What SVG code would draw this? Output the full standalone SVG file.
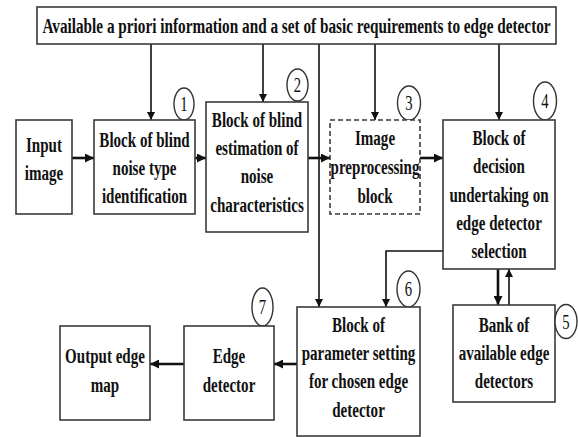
<svg xmlns="http://www.w3.org/2000/svg" width="578" height="437" viewBox="0 0 578 437">
<style>
.box{fill:#fff;stroke:#3a3a3a;stroke-width:1.6}
.dash{fill:#fff;stroke:#3a3a3a;stroke-width:1.6;stroke-dasharray:5 3}
.num{fill:#fff;stroke:#333;stroke-width:1.4}
.t{font-family:"Liberation Serif","Times New Roman",serif;font-weight:bold;font-size:21.5px;fill:#111;text-anchor:middle}
.n{font-family:"Liberation Serif","Times New Roman",serif;font-size:21px;fill:#111;text-anchor:middle}
.c{fill:none;stroke:#111;stroke-width:1.6}
.ct{fill:none;stroke:#111;stroke-width:2.6}
</style>
<defs>
<marker id="ah" viewBox="0 0 10 10" refX="10" refY="5" markerWidth="8" markerHeight="8" markerUnits="userSpaceOnUse" orient="auto"><path d="M0,0 L10,5 L0,10 z" fill="#111"/></marker>
<marker id="ah2" viewBox="0 0 10 10" refX="10" refY="5" markerWidth="9" markerHeight="9" markerUnits="userSpaceOnUse" orient="auto"><path d="M0,0 L10,5 L0,10 z" fill="#111"/></marker>
</defs>
<rect width="578" height="437" fill="#fff"/>
<g id="connectors">
<line class="c" x1="151" y1="44" x2="151" y2="120" marker-end="url(#ah)"/>
<line class="c" x1="263" y1="44" x2="263" y2="102" marker-end="url(#ah)"/>
<line class="c" x1="375" y1="44" x2="375" y2="120" marker-end="url(#ah)"/>
<line class="c" x1="499" y1="44" x2="499" y2="120" marker-end="url(#ah)"/>
<line class="c" x1="319" y1="44" x2="319" y2="307" marker-end="url(#ah)"/>
<polyline class="c" points="443,251 386,251 386,307" marker-end="url(#ah)"/>
<line class="ct" x1="72" y1="158" x2="94" y2="158" marker-end="url(#ah2)"/>
<line class="ct" x1="195" y1="158" x2="206" y2="158" marker-end="url(#ah2)"/>
<line class="ct" x1="308" y1="158" x2="330" y2="158" marker-end="url(#ah2)"/>
<line class="ct" x1="420" y1="158" x2="443" y2="158" marker-end="url(#ah2)"/>
<line class="ct" x1="498" y1="269" x2="498" y2="305" marker-end="url(#ah2)"/>
<line class="c" x1="509" y1="305" x2="509" y2="269" marker-end="url(#ah)"/>
<line class="ct" x1="297" y1="364" x2="274" y2="364" marker-end="url(#ah2)"/>
<line class="ct" x1="184" y1="364" x2="150" y2="364" marker-end="url(#ah2)"/>
</g>
<g id="top">
<rect class="box" x="37" y="7" width="519" height="37"/>
<text class="t" transform="translate(296.5,33) scale(0.71,1)">Available a priori information and a set of basic requirements to edge detector</text>
</g>
<g id="input">
<rect class="box" x="16" y="120" width="56" height="94"/>
<text class="t" transform="translate(44,152) scale(0.7,1)">Input</text>
<text class="t" transform="translate(44,180) scale(0.7,1)">image</text>
</g>
<g id="block1">
<ellipse class="num" cx="184" cy="104" rx="10" ry="16"/>
<text class="n" transform="translate(184,111) scale(0.7,1)">1</text>
<rect class="box" x="94" y="120" width="101" height="94"/>
<text class="t" transform="translate(144.5,147) scale(0.7,1)">Block of blind</text>
<text class="t" transform="translate(144.5,175) scale(0.7,1)">noise type</text>
<text class="t" transform="translate(144.5,203) scale(0.7,1)">identification</text>
</g>
<g id="block2">
<ellipse class="num" cx="297.5" cy="85" rx="10.5" ry="16"/>
<text class="n" transform="translate(297.5,92) scale(0.7,1)">2</text>
<rect class="box" x="206" y="102" width="102" height="130"/>
<text class="t" transform="translate(257,127) scale(0.7,1)">Block of blind</text>
<text class="t" transform="translate(257,155) scale(0.7,1)">estimation of</text>
<text class="t" transform="translate(257,183) scale(0.7,1)">noise</text>
<text class="t" transform="translate(257,212) scale(0.7,1)">characteristics</text>
</g>
<g id="block3">
<ellipse class="num" cx="409" cy="103" rx="11.5" ry="17"/>
<text class="n" transform="translate(409,110) scale(0.7,1)">3</text>
<rect class="dash" x="330" y="120" width="90" height="94"/>
<text class="t" transform="translate(375,145) scale(0.7,1)">Image</text>
<text class="t" transform="translate(375,174) scale(0.7,1)">preprocessing</text>
<text class="t" transform="translate(375,203) scale(0.7,1)">block</text>
</g>
<g id="block4">
<ellipse class="num" cx="545" cy="101" rx="11.5" ry="19"/>
<text class="n" transform="translate(545,108) scale(0.7,1)">4</text>
<rect class="box" x="443" y="120" width="112" height="149"/>
<text class="t" transform="translate(499,145) scale(0.7,1)">Block of</text>
<text class="t" transform="translate(499,173) scale(0.7,1)">decision</text>
<text class="t" transform="translate(499,202) scale(0.7,1)">undertaking on</text>
<text class="t" transform="translate(499,230) scale(0.7,1)">edge detector</text>
<text class="t" transform="translate(499,258) scale(0.7,1)">selection</text>
</g>
<g id="block5">
<rect class="box" x="453" y="305" width="102" height="97"/>
<ellipse class="num" cx="566" cy="321.5" rx="11" ry="17"/>
<text class="n" transform="translate(566,328.5) scale(0.7,1)">5</text>
<text class="t" transform="translate(504,332) scale(0.7,1)">Bank of</text>
<text class="t" transform="translate(504,360) scale(0.7,1)">available edge</text>
<text class="t" transform="translate(504,388) scale(0.7,1)">detectors</text>
</g>
<g id="block6">
<ellipse class="num" cx="408.5" cy="289" rx="11.5" ry="18"/>
<text class="n" transform="translate(408.5,296) scale(0.7,1)">6</text>
<rect class="box" x="297" y="307" width="123" height="129"/>
<text class="t" transform="translate(358.5,332) scale(0.7,1)">Block of</text>
<text class="t" transform="translate(358.5,360) scale(0.7,1)">parameter setting</text>
<text class="t" transform="translate(358.5,388) scale(0.7,1)">for chosen edge</text>
<text class="t" transform="translate(358.5,417) scale(0.7,1)">detector</text>
</g>
<g id="block7">
<ellipse class="num" cx="262.5" cy="307" rx="10.5" ry="19"/>
<text class="n" transform="translate(262.5,314) scale(0.7,1)">7</text>
<rect class="box" x="184" y="326" width="90" height="94"/>
<text class="t" transform="translate(229,363) scale(0.7,1)">Edge</text>
<text class="t" transform="translate(229,392) scale(0.7,1)">detector</text>
</g>
<g id="output">
<rect class="box" x="60" y="326" width="90" height="94"/>
<text class="t" transform="translate(105,363) scale(0.7,1)">Output edge</text>
<text class="t" transform="translate(105,392) scale(0.7,1)">map</text>
</g>
</svg>
